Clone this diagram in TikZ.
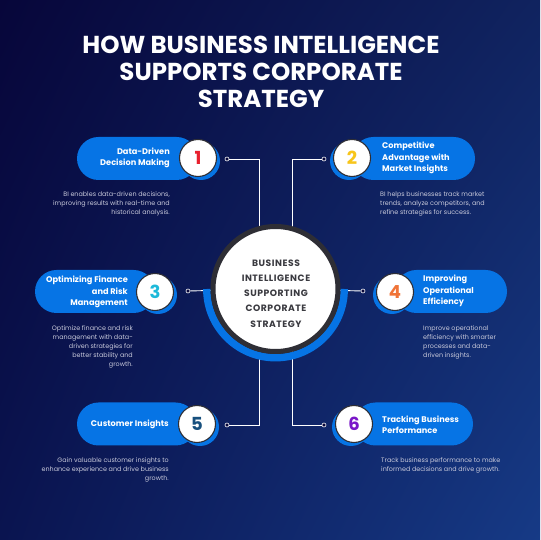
\documentclass[tikz,border=0pt]{standalone}
\usepackage{fontspec}
\setmainfont{Poppins}
\usetikzlibrary{shadings}
\definecolor{bgTL}{HTML}{07063A}
\definecolor{bgTR}{HTML}{10235F}
\definecolor{bgBL}{HTML}{0A1450}
\definecolor{bgBR}{HTML}{163A86}
\definecolor{pillblue}{HTML}{0674E5}
\definecolor{ringgrey}{HTML}{2E2E35}
\definecolor{desc}{HTML}{C9CADB}
\definecolor{numA}{HTML}{E8202E}
\definecolor{numB}{HTML}{F7C51A}
\definecolor{numC}{HTML}{1DB9D9}
\definecolor{numD}{HTML}{F07438}
\definecolor{numE}{HTML}{17507E}
\definecolor{numF}{HTML}{7A16C8}
\definecolor{coretext}{HTML}{3A3A40}
\tikzset{
  pill/.style={fill=pillblue, rounded corners=21.5pt, minimum height=43pt, inner sep=0pt},
  numcirc/.style={circle, fill=white, draw=ringgrey, line width=1.1pt, minimum size=37pt, inner sep=0pt,
    font=\fontsize{18}{18}\selectfont\bfseries},
  shadowcirc/.style={circle, fill=pillblue, minimum size=38pt, inner sep=0pt},
  boxtitle/.style={text=white, inner sep=0pt, font=\fontsize{8.2}{11.2}\selectfont\bfseries},
  desctext/.style={text=desc, inner sep=0pt, font=\fontsize{6.4}{9}\selectfont},
  dotn/.style={circle, draw=white, fill=bgTL, line width=0.6pt, minimum size=4pt, inner sep=0pt},
  conn/.style={draw=white, line width=0.9pt},
}
\begin{document}
\begin{tikzpicture}[x=1pt,y=1pt]
\useasboundingbox (0,0) rectangle (540,540);
\shade[upper left=bgTL, upper right=bgTR, lower left=bgBL, lower right=bgBR] (0,0) rectangle (540,540);

% title
\node[text=white, align=center, font=\fontsize{24.5}{27}\selectfont\bfseries] (title) at (261,468)
  {HOW BUSINESS INTELLIGENCE\\SUPPORTS CORPORATE\\STRATEGY};

% connector dots
\node[dotn] (d1) at (227,381) {};
\node[dotn] (d2) at (324,381) {};
\node[dotn] (d3) at (188,249) {};
\node[dotn] (d4) at (363,249) {};
\node[dotn] (d5) at (227,115) {};
\node[dotn] (d6) at (324,115) {};
\coordinate (core) at (275.5,251);

% connectors (behind centre)
\draw[conn] (d1) -- (259,381) -- (259,115) -- (d5);
\draw[conn] (d2) -- (292,381) -- (292,115) -- (d6);
\draw[conn] (d3) -- (core);
\draw[conn] (d4) -- (core);

% central circle
\draw[pillblue, line width=7.5pt] ([shift={(180:68.7)}]core) arc[start angle=180, end angle=360, radius=68.7];
\node[circle, fill=white, draw=ringgrey, line width=5pt, minimum size=125pt, inner sep=0pt] (corenode) at (core) {};
\node[align=center, text=coretext, inner sep=0pt,
  font=\fontsize{9.2}{15.2}\selectfont\bfseries\addfontfeatures{LetterSpace=6}]
  (coretxt) at (276,246.5) {BUSINESS\\INTELLIGENCE\\SUPPORTING\\CORPORATE\\STRATEGY};

% Box 1
\node[pill, minimum width=121pt] (p1) at (137.5,381.5) {};
\node[shadowcirc] (s1) at (201,379) {};
\node[numcirc, text=numA] (n1) at (198,382) {1};
\node[boxtitle, anchor=east, align=right] (t1) at (170,382) {Data-Driven\\Decision Making};
\node[desctext, anchor=north east, align=right] (e1) at (170,349)
  {BI enables data-driven decisions,\\improving results with real-time and\\historical analysis.};

% Box 2
\node[pill, minimum width=123pt] (p2) at (413.5,381.5) {};
\node[shadowcirc] (s2) at (349,379) {};
\node[numcirc, text=numB] (n2) at (352,382) {2};
\node[boxtitle, anchor=west, align=left] (t2) at (382,382) {Competitive\\Advantage with\\Market Insights};
\node[desctext, anchor=north west, align=left] (e2) at (380,349)
  {BI helps businesses track market\\trends, analyze competitors, and\\refine strategies for success.};

% Box 3
\node[pill, minimum width=120pt] (p3) at (95,248.5) {};
\node[shadowcirc] (s3) at (158,245) {};
\node[numcirc, text=numC] (n3) at (155,248) {3};
\node[boxtitle, anchor=east, align=right] (t3) at (128,248) {Optimizing Finance\\and Risk\\Management};
\node[desctext, anchor=north east, align=right] (e3) at (133,215)
  {Optimize finance and risk\\management with data-\\driven strategies for\\better stability and\\growth.};

% Box 4
\node[pill, minimum width=112pt] (p4) at (451,248.5) {};
\node[shadowcirc] (s4) at (392,245) {};
\node[numcirc, text=numD] (n4) at (395,248) {4};
\node[boxtitle, anchor=west, align=left] (t4) at (423,249) {Improving\\Operational\\Efficiency};
\node[desctext, anchor=north west, align=left] (e4) at (423,215)
  {Improve operational\\efficiency with smarter\\processes and data-\\driven insights.};

% Box 5
\node[pill, minimum width=120pt] (p5) at (137,116) {};
\node[shadowcirc] (s5) at (200,113) {};
\node[numcirc, text=numE] (n5) at (197,116) {5};
\node[boxtitle, anchor=east, align=right] (t5) at (169,116) {Customer Insights};
\node[desctext, anchor=north east, align=right] (e5) at (169,83)
  {Gain valuable customer insights to\\enhance experience and drive business\\growth.};

% Box 6
\node[pill, minimum width=119pt] (p6) at (413.5,116) {};
\node[shadowcirc] (s6) at (351,113) {};
\node[numcirc, text=numF] (n6) at (354,116) {6};
\node[boxtitle, anchor=west, align=left] (t6) at (382,115.5) {Tracking Business\\Performance};
\node[desctext, anchor=north west, align=left] (e6) at (381,83)
  {Track business performance to make\\informed decisions and drive growth.};
\end{tikzpicture}
\end{document}
